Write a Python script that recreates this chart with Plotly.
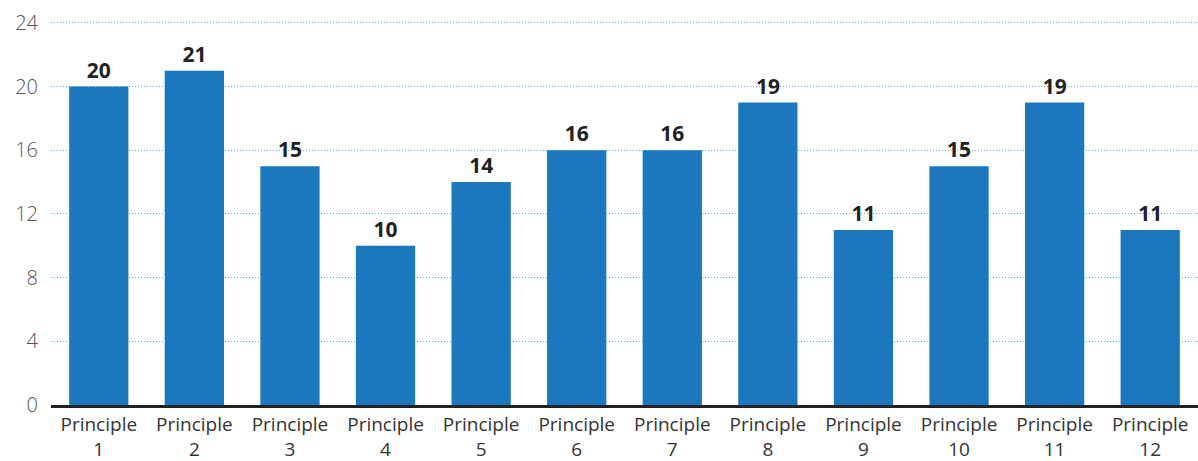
import plotly.graph_objects as go

categories = [f"Principle<br>{i}" for i in range(1, 13)]
values = [20, 21, 15, 10, 14, 16, 16, 19, 11, 15, 19, 11]
y_ticks = [0, 4, 8, 12, 16, 20, 24]

fig = go.Figure(go.Bar(
    x=categories, y=values,
    marker=dict(color="#1b78be", line=dict(width=0)),
    text=[str(v) for v in values], textposition="outside",
    textfont=dict(family="Open Sans", size=21, color="#222222", weight="bold"),
    cliponaxis=False,
))
fig.update_layout(
    width=1198, height=461,
    margin=dict(l=51, r=0, t=21, b=56),
    paper_bgcolor="white", plot_bgcolor="white",
    bargap=0.38, showlegend=False,
    font=dict(family="Open Sans", color="#444444"),
)
fig.update_yaxes(
    range=[0, 24.12], tickvals=y_ticks, showgrid=True,
    gridcolor="#45b3e6", griddash="1px,2px", gridwidth=1,
    zeroline=False, tickfont=dict(size=20, color="#555555", weight=300),
    ticks="", ticklabelstandoff=12, automargin=False,
)
fig.update_xaxes(
    showline=True, linecolor="#222222", linewidth=3,
    tickfont=dict(size=19, color="#333333"), ticks="", automargin=False,
    ticklabelstandoff=0,
)
fig.write_html("out.html", config={"displayModeBar": False},
               post_script="document.body.style.margin='0';document.body.style.overflow='hidden';")
